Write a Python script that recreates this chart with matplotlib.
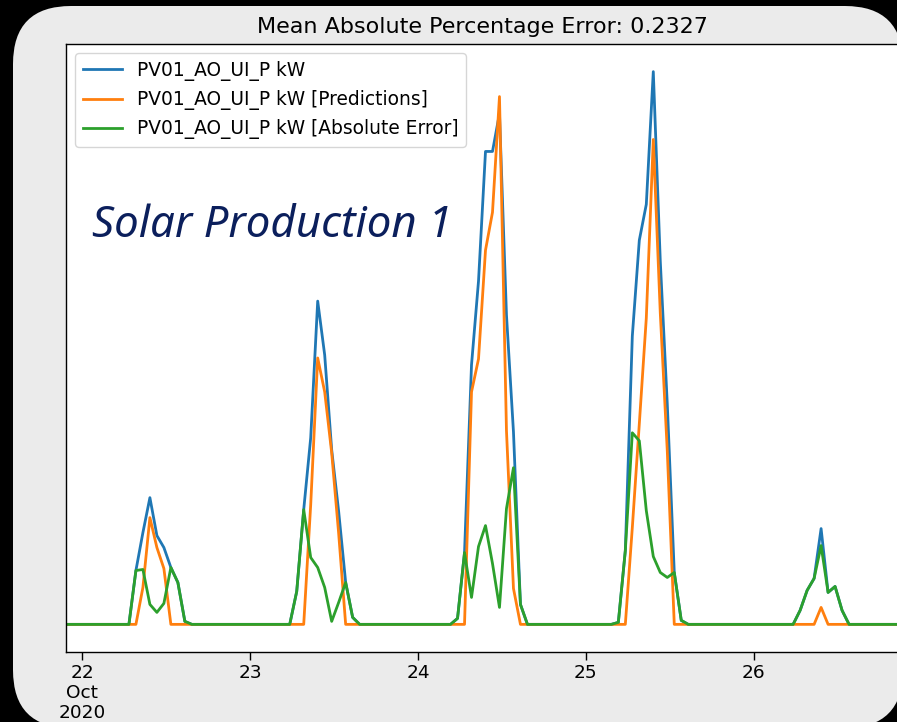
import matplotlib.pyplot as plt
from matplotlib.patches import FancyBboxPatch
from matplotlib.transforms import IdentityTransform
import pandas as pd

# hourly samples, first stamp 2020-10-21 21:39
start = '2020-10-21 21:39'

actual_kw = (
    [0, 0, 0]                                                            # 21 Oct
    + [0, 0, 0, 0, 0, 0, 0, 5.4, 9.2, 12.7, 8.9, 7.7,
       5.7, 4.2, 0.3, 0, 0, 0, 0, 0, 0, 0, 0, 0]                         # 22 Oct
    + [0, 0, 0, 0, 0, 0, 3.3, 11.5, 18.7, 32.4, 27.0, 17.5,
       11.3, 4.2, 0.7, 0, 0, 0, 0, 0, 0, 0, 0, 0]                        # 23 Oct
    + [0, 0, 0, 0, 0, 0.6, 7.2, 26.0, 34.4, 47.4, 47.4, 51.2,
       31.0, 19.3, 2.0, 0, 0, 0, 0, 0, 0, 0, 0, 0]                       # 24 Oct
    + [0, 0, 0, 0, 0.2, 7.4, 28.9, 38.5, 42.1, 55.4, 36.4, 22.1,
       5.2, 0.4, 0, 0, 0, 0, 0, 0, 0, 0, 0, 0]                           # 25 Oct
    + [0, 0, 0, 0, 0, 0, 1.4, 3.4, 4.6, 9.6, 3.2, 3.8,
       1.4, 0, 0, 0, 0, 0, 0, 0, 0]                                      # 26 Oct
)

predicted_kw = (
    [0, 0, 0]
    + [0, 0, 0, 0, 0, 0, 0, 0, 3.7, 10.7, 7.7, 5.6,
       0, 0, 0, 0, 0, 0, 0, 0, 0, 0, 0, 0]
    + [0, 0, 0, 0, 0, 0, 0, 0, 12.0, 26.7, 23.3, 17.2,
       9.1, 0, 0, 0, 0, 0, 0, 0, 0, 0, 0, 0]
    + [0, 0, 0, 0, 0, 0, 0, 23.3, 26.6, 37.5, 41.3, 52.9,
       19.4, 3.6, 0, 0, 0, 0, 0, 0, 0, 0, 0, 0]
    + [0, 0, 0, 0, 0, 0, 9.7, 20.1, 30.7, 48.6, 31.2, 17.4,
       0, 0, 0, 0, 0, 0, 0, 0, 0, 0, 0, 0]
    + [0, 0, 0, 0, 0, 0, 0, 0, 0, 1.7, 0, 0,
       0, 0, 0, 0, 0, 0, 0, 0, 0]
)

abs_error_kw = (
    [0, 0, 0]
    + [0, 0, 0, 0, 0, 0, 0, 5.4, 5.5, 2.0, 1.2, 2.1,
       5.7, 4.2, 0.3, 0, 0, 0, 0, 0, 0, 0, 0, 0]
    + [0, 0, 0, 0, 0, 0, 3.3, 11.5, 6.7, 5.7, 3.7, 0.3,
       2.2, 4.2, 0.7, 0, 0, 0, 0, 0, 0, 0, 0, 0]
    + [0, 0, 0, 0, 0, 0.6, 7.2, 2.7, 7.8, 9.9, 6.1, 1.7,
       11.6, 15.7, 2.0, 0, 0, 0, 0, 0, 0, 0, 0, 0]
    + [0, 0, 0, 0, 0.2, 7.4, 19.2, 18.4, 11.4, 6.8, 5.2, 4.7,
       5.2, 0.4, 0, 0, 0, 0, 0, 0, 0, 0, 0, 0]
    + [0, 0, 0, 0, 0, 0, 1.4, 3.4, 4.6, 7.9, 3.2, 3.8,
       1.4, 0, 0, 0, 0, 0, 0, 0, 0]
)

day_ticks = ['2020-10-22', '2020-10-23', '2020-10-24', '2020-10-25', '2020-10-26']
day_labels = ['22\nOct\n2020', '23', '24', '25', '26']

label = 'PV01_AO_UI_P kW'
mape = 0.2327

times = pd.date_range(start, periods=len(actual_kw), freq='h')

fig = plt.figure(figsize=(8.97, 7.22), dpi=100, facecolor='black')

# light rounded panel behind the plot
panel = FancyBboxPatch((13, -6), 890, 722, boxstyle='round,pad=0,rounding_size=58',
                       transform=IdentityTransform(), facecolor='#ebebeb', edgecolor='none',
                       zorder=-10)
fig.add_artist(panel)

ax = fig.add_axes([66 / 897, 70 / 722, 832 / 897, 608 / 722])
ax.set_facecolor('white')
ax.plot(times, actual_kw, color='#1f77b4', lw=2, label=label)
ax.plot(times, predicted_kw, color='#ff7f0e', lw=2, label=label + ' [Predictions]')
ax.plot(times, abs_error_kw, color='#2ca02c', lw=2, label=label + ' [Absolute Error]')

ax.set_xlim(times[0], times[-1])
ax.set_yticks([])
ax.set_xticks(pd.to_datetime(day_ticks))
ax.set_xticklabels(day_labels, linespacing=1.15)
ax.tick_params(axis='x', labelsize=13.3, length=6, width=1.0, pad=2.5)
for s in ax.spines.values():
    s.set_linewidth(1.0)

ax.set_title(f'Mean Absolute Percentage Error: {mape}', fontsize=16, pad=8)
ax.legend(loc='upper left', fontsize=13.4, handlelength=2.1)

fig.text(92 / 897, 1 - 237 / 722, 'Solar Production 1', fontsize=31.5, style='italic',
         family='Noto Sans', color='#0b1f5c', va='baseline', zorder=5)

fig.savefig('out.png', dpi=100, facecolor=fig.get_facecolor())
